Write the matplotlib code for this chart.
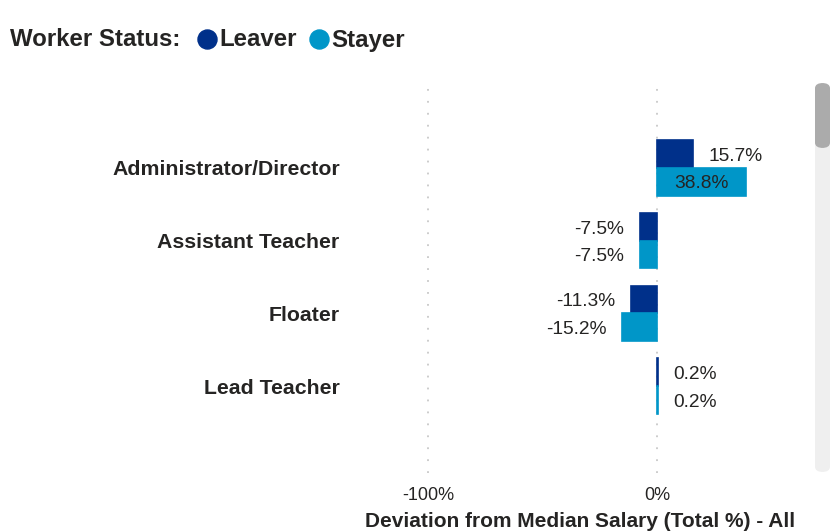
import matplotlib.pyplot as plt
import numpy as np
from matplotlib.patches import FancyBboxPatch
from matplotlib.lines import Line2D

plt.rcParams['font.family'] = ['Liberation Sans', 'DejaVu Sans']
plt.rcParams['lines.scale_dashes'] = False

roles = ['Administrator/Director', 'Assistant Teacher', 'Floater', 'Lead Teacher']
leaver = [15.7, -7.5, -11.3, 0.2]
stayer = [38.8, -7.5, -15.2, 0.2]
xticks = [-100, 0]
xticklabels = ['-100%', '0%']

navy = '#00308A'
cyan = '#0096C8'
txt = '#252423'

W, H = 832, 532
fig = plt.figure(figsize=(W / 100, H / 100), dpi=100)

# axes placed in pixel terms
left, right, top, bottom = 355, 805, 88, 473
ax = fig.add_axes([left / W, 1 - bottom / H, (right - left) / W, (bottom - top) / H])

y = np.arange(len(roles))
h = 0.38
ax.barh(y - h / 2, leaver, height=h, color=navy, edgecolor=navy, linewidth=1.2, zorder=3)
ax.barh(y + h / 2, stayer, height=h, color=cyan, edgecolor=cyan, linewidth=1.2, zorder=3)

ax.set_xlim(-131.9, 64.6)
ax.set_ylim(4.195, -1.10)

def label(v, yy):
    s = f'{v:.1f}%'
    if v > 30:
        ax.text(v / 2, yy, s, ha='center', va='center', fontsize=13.8, color=txt, zorder=4)
    elif v >= 0:
        ax.annotate(s, (v, yy), xytext=(11.5, 0), textcoords='offset points',
                    ha='left', va='center', fontsize=13.8, color=txt)
    else:
        ax.annotate(s, (v, yy), xytext=(-11.5, 0), textcoords='offset points',
                    ha='right', va='center', fontsize=13.8, color=txt)

for i in range(len(roles)):
    label(leaver[i], y[i] - h / 2 + 0.03)
    label(stayer[i], y[i] + h / 2 + 0.03)

ax.set_yticks(y)
ax.set_yticklabels(roles, fontsize=15.3, fontweight='bold', color=txt)
ax.set_xticks(xticks)
ax.set_xticklabels(xticklabels, fontsize=13, color=txt)
ax.tick_params(axis='both', length=0)
ax.tick_params(axis='y', pad=11)
ax.tick_params(axis='x', pad=10)
ax.xaxis.grid(True, color='#c8c8c8', linestyle=(0, (1.3, 7.3)), linewidth=1.3, zorder=0)
for sp in ax.spines.values():
    sp.set_visible(False)
ax.set_xlabel('Deviation from Median Salary (Total %) - All', fontsize=15,
              fontweight='bold', color=txt, labelpad=6)

# legend
ly = 1 - 40 / H
fig.text(10 / W, ly, 'Worker Status:', fontsize=17.3, fontweight='bold',
         color=txt, va='center', ha='left')
for cx, col, name in [(207, navy, 'Leaver'), (319, cyan, 'Stayer')]:
    fig.add_artist(Line2D([cx / W], [1 - 39 / H], marker='o', markersize=13.7,
                          color=col, transform=fig.transFigure, linestyle='none'))
    fig.text((cx + 12) / W, ly, name, fontsize=17.3, fontweight='bold',
             color=txt, va='center', ha='left')

# scrollbar
fig.add_artist(FancyBboxPatch((815 / W, 1 - 472 / H), 15 / W, 389 / H,
                              boxstyle='round,pad=0,rounding_size=0.01',
                              transform=fig.transFigure, color='#efefef', lw=0))
fig.add_artist(FancyBboxPatch((815 / W, 1 - 148 / H), 15 / W, 65 / H,
                              boxstyle='round,pad=0,rounding_size=0.01',
                              transform=fig.transFigure, color='#ababab', lw=0))

fig.savefig('out.png', dpi=100)
